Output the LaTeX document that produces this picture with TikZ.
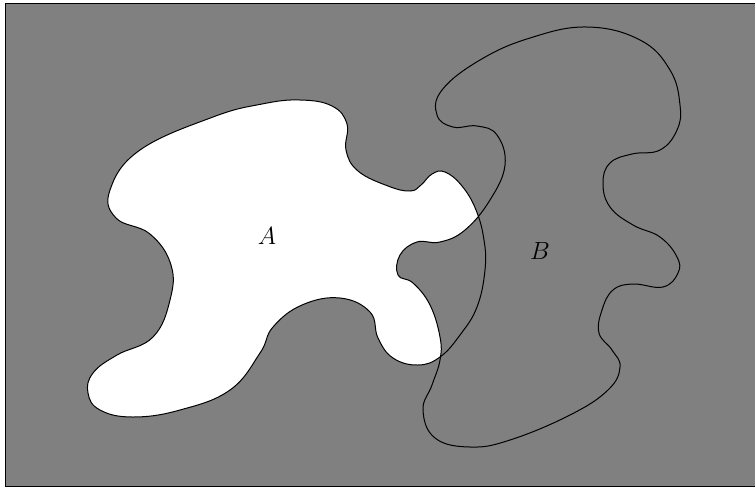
\documentclass[tikz,border=0pt]{standalone}
\begin{document}
\begin{tikzpicture}[x=1pt,y=-1pt,
  region/.style={fill=gray},
  outline/.style={draw=black,line width=1pt},
  setlabel/.style={font=\fontsize{33}{40}\selectfont}]
\useasboundingbox (0,0) rectangle (755,488);
\def\pathA{plot[smooth cycle,tension=0.7] coordinates{
 (213,117) (262,104) (300,100) (332,106) (347,124) (346,150) (358,171) (388,186) (410,191)
 (421,185) (432,174) (445,172) (462,186) (476,210) (484,240) (485,270) (477,307) (460,335)
 (440,357) (418,365) (393,358) (378,338) (370,312) (340,298) (302,305) (273,327) (260,353)
 (230,390) (180,410) (133,417) (100,410) (88,393) (93,373) (117,355) (153,337) (170,300)
 (171,265) (150,234) (116,218) (110,190) (140,150)}}
\def\pathB{plot[smooth cycle,tension=0.7] coordinates{
 (587,27) (640,40) (670,70) (680,105) (677,130) (660,150) (632,154) (610,163) (603,183)
 (610,207) (633,225) (660,237) (677,257) (678,273) (663,287) (633,284) (613,290) (602,310)
 (599,333) (612,350) (620,367) (608,390) (570,415) (510,440) (470,447) (435,438) (423,410)
 (432,385) (440,360) (440,337) (430,305) (413,283) (398,275) (400,255) (417,242) (440,242)
 (465,230) (490,200) (505,165) (497,135) (477,126) (453,127) (437,115) (442,90) (480,60) (530,38)}}
\begin{scope}
\clip (0,0) rectangle (755,488);
\fill[region] (5.5,3) rectangle (760,486);
\fill[white] \pathA;
\fill[region] \pathB;
\draw[outline] \pathA;
\draw[outline] \pathB;
\draw[line width=1pt] (5.5,3) rectangle (760,486);
\end{scope}
\node[setlabel] (labA) at (267,236) {$A$};
\node[setlabel] (labB) at (540,251) {$B$};
\end{tikzpicture}
\end{document}
